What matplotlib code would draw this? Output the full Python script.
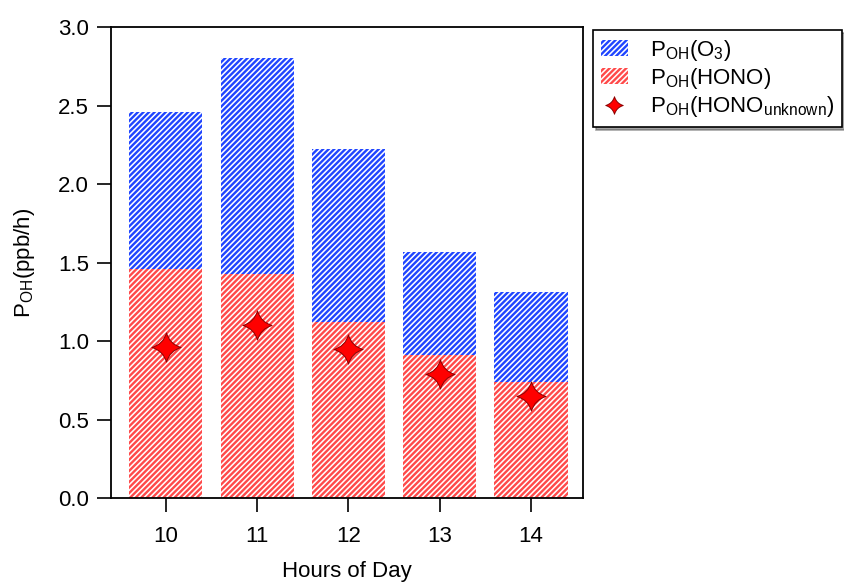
import numpy as np
import matplotlib.pyplot as plt
from matplotlib.path import Path

plt.rcParams['font.family'] = ['Liberation Sans', 'DejaVu Sans']
plt.rcParams['mathtext.fontset'] = 'custom'
plt.rcParams['mathtext.rm'] = 'Liberation Sans'
plt.rcParams['mathtext.it'] = 'Liberation Sans'
plt.rcParams['hatch.linewidth'] = 1.7

# data
hours = [10, 11, 12, 13, 14]
p_total = [2.46, 2.80, 2.22, 1.57, 1.31]
p_hono = [1.46, 1.43, 1.12, 0.91, 0.74]
p_hono_unknown = [0.96, 1.10, 0.95, 0.79, 0.65]

p_o3 = np.array(p_total) - np.array(p_hono)

# 4 pointed star with concave sides
c = 0.22
star = Path(
    [(0, 1), (c, c), (1, 0), (c, -c), (0, -1), (-c, -c), (-1, 0), (-c, c), (0, 1), (0, 1)],
    [Path.MOVETO, Path.CURVE3, Path.CURVE3, Path.CURVE3, Path.CURVE3,
     Path.CURVE3, Path.CURVE3, Path.CURVE3, Path.CURVE3, Path.CLOSEPOLY])

fig = plt.figure(figsize=(8.45, 5.85), dpi=100)
ax = fig.add_axes([0.1314, 0.1487, 0.5586, 0.8051])

blue = '#1f45ff'
red = '#ff4a4a'
fs = 16
b_hono = ax.bar(hours, p_hono, width=0.8, color='white', edgecolor=red, linewidth=0,
                hatch='//////', zorder=2)
b_o3 = ax.bar(hours, p_o3, width=0.8, bottom=p_hono, color='white', edgecolor=blue,
              linewidth=0, hatch='//////', zorder=2)
stars, = ax.plot(hours, p_hono_unknown, linestyle='none', marker=star, markersize=21,
                 markerfacecolor='red', markeredgecolor='#8a0000', markeredgewidth=0.7,
                 zorder=3)

ax.set_xlim(9.4, 14.57)
ax.set_ylim(0, 3.0)
ax.set_xticks(hours)
ax.set_yticks(np.arange(0, 3.01, 0.5))
ax.yaxis.set_major_formatter(plt.FormatStrFormatter('%.1f'))
ax.tick_params(direction='out', length=10, width=1.2, labelsize=fs, pad=6)
ax.tick_params(axis='x', pad=10)
for s in ax.spines.values():
    s.set_linewidth(1.3)

ax.set_xlabel('Hours of Day', fontsize=fs, labelpad=10)
ax.set_ylabel(r'P$_\mathrm{OH}$(ppb/h)', fontsize=fs, labelpad=15)

leg = fig.legend([b_o3, b_hono, stars],
                 [r'P$_\mathrm{OH}$(O$_\mathrm{3}$)', r'P$_\mathrm{OH}$(HONO)',
                  r'P$_\mathrm{OH}$(HONO$_\mathrm{unknown}$)'],
                 loc='upper left', bbox_to_anchor=(0.702, 0.949), borderaxespad=0,
                 fontsize=fs, frameon=True, fancybox=False, shadow=True, edgecolor='black',
                 markerscale=0.6, handlelength=1.2, handletextpad=1.0,
                 borderpad=0.35, labelspacing=0.15)
leg.get_frame().set_linewidth(1.2)

plt.savefig('out.png', dpi=100)
